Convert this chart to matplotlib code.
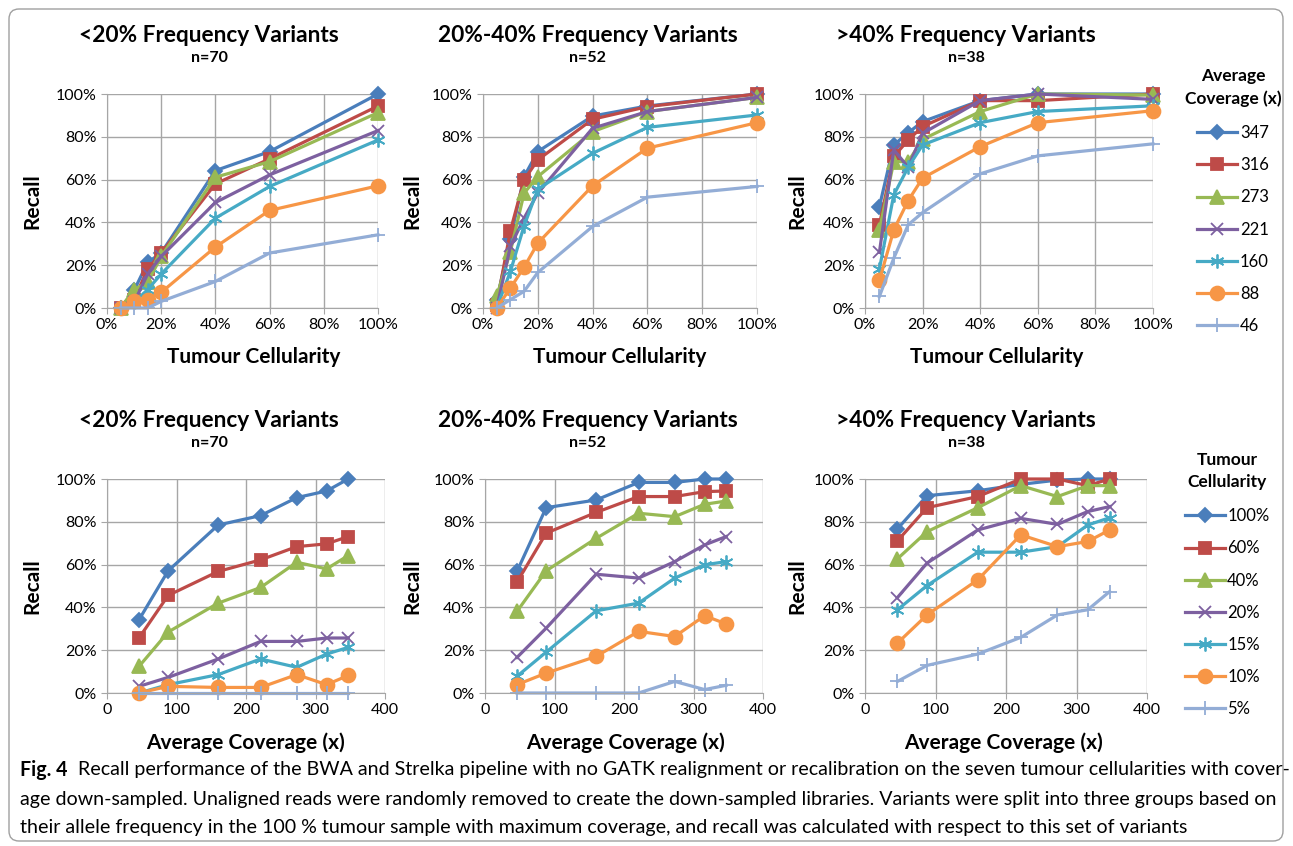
import matplotlib
matplotlib.use("Agg")
import matplotlib.pyplot as plt
from matplotlib.patches import FancyBboxPatch
from matplotlib.ticker import PercentFormatter

plt.rcParams['font.family'] = ['Lato', 'DejaVu Sans']

# =========================
# DATA
# =========================
cellularity = [100, 60, 40, 20, 15, 10, 5]      # tumour cellularity (%)
coverage = [46, 88, 160, 221, 273, 316, 347]    # average coverage (x)

# recall (%) - one row per cellularity, one column per coverage
recall_low = [
    [34.2, 57.1, 78.5, 82.9, 91.3, 94.4, 100.0],
    [25.7, 45.6, 56.8, 62.2, 68.4, 69.7, 73.1],
    [12.4, 28.5, 42.0, 49.3, 61.1, 58.0, 64.2],
    [3.1, 7.3, 15.9, 24.1, 24.1, 25.7, 25.7],
    [0.0, 3.9, 8.6, 15.9, 12.0, 18.2, 21.3],
    [0.0, 3.1, 2.6, 2.6, 8.6, 3.9, 8.2],
    [0.0, 0.0, 0.0, 0.0, 0.0, 0.0, 0.0],
]
recall_mid = [
    [56.8, 86.6, 90.2, 98.4, 98.4, 100.0, 100.0],
    [51.8, 74.7, 84.4, 91.8, 91.8, 94.1, 94.4],
    [38.1, 57.1, 72.3, 84.0, 82.4, 88.2, 89.7],
    [16.6, 30.3, 55.5, 53.7, 61.4, 69.2, 73.1],
    [7.8, 19.1, 38.4, 42.0, 53.7, 59.9, 61.4],
    [3.9, 9.3, 17.1, 28.8, 26.4, 36.1, 32.3],
    [0.0, 0.0, 0.0, 0.0, 5.4, 1.6, 3.6],
]
recall_high = [
    [76.7, 92.2, 94.5, 97.5, 99.5, 100.0, 100.0],
    [71.1, 86.6, 91.8, 100.0, 100.0, 96.9, 100.0],
    [62.7, 75.4, 86.6, 96.9, 91.8, 96.9, 96.9],
    [44.6, 60.7, 76.2, 81.6, 78.8, 84.8, 87.1],
    [38.9, 50.2, 65.8, 65.8, 68.4, 78.5, 81.9],
    [23.3, 36.5, 52.9, 73.9, 68.4, 70.8, 76.2],
    [5.4, 12.9, 18.2, 26.0, 36.5, 38.9, 47.4],
]

group_titles = ['<20% Frequency Variants', '20%-40% Frequency Variants', '>40% Frequency Variants']
group_n = ['n=70', 'n=52', 'n=38']
groups = [recall_low, recall_mid, recall_high]

caption = [
    'Recall performance of the BWA and Strelka pipeline with no GATK realignment or '
    'recalibration on the seven tumour cellularities with cover-',
    'age down-sampled. Unaligned reads were randomly removed to create the down-sampled '
    'libraries. Variants were split into three groups based on',
    'their allele frequency in the 100 % tumour sample with maximum coverage, and recall '
    'was calculated with respect to this set of variants',
]

# =========================
# STYLE
# =========================
colors = ['#4A7EBB', '#BE4B48', '#98B954', '#7D60A0', '#46AAC5', '#F79646', '#93ADD6']
markers = ['D', 's', '^', 'x', (6, 2, 0), 'o', '+']
msizes = [7.5, 9, 9.5, 9, 10, 10, 10]
grid_col = '#A6A6A6'

W, H = 1293, 846
fig = plt.figure(figsize=(W / 100, H / 100), dpi=100)

bg = fig.add_axes([0, 0, 1, 1])
bg.axis('off')
bg.set_xlim(0, W)
bg.set_ylim(H, 0)
bg.add_patch(FancyBboxPatch((9, 9), W - 19, H - 14, boxstyle='round,pad=0,rounding_size=10',
                            fc='none', ec='#A0A0A0', lw=1))


def px_axes(x0, x1, y0, y1):
    return fig.add_axes([x0 / W, 1 - y1 / H, (x1 - x0) / W, (y1 - y0) / H])


def ftext(x, y, s, **kw):
    return fig.text(x / W, 1 - y / H, s, ha='center', va='center', **kw)


def style_axes(ax):
    ax.set_ylim(0, 100)
    ax.set_yticks(range(0, 101, 20))
    ax.yaxis.set_major_formatter(PercentFormatter(decimals=0))
    ax.grid(True, color=grid_col, lw=1)
    ax.set_axisbelow(True)
    for s in ['top', 'right']:
        ax.spines[s].set_visible(False)
    for s in ['left', 'bottom']:
        ax.spines[s].set_color(grid_col)
    ax.tick_params(colors=grid_col, labelcolor='black', length=4, labelsize=11.5)


def draw_series(ax, x, y, i, label):
    ax.plot(x, y, color=colors[i], lw=2.3, marker=markers[i], ms=msizes[i],
            mfc=colors[i], mec=colors[i], mew=1.3, clip_on=False, label=label)


# =========================
# TOP ROW: recall vs cellularity
# =========================
top_x = [(107, 378), (483, 757), (865, 1153)]
bot_x = [(107, 385), (485, 763), (865, 1147)]
title_cx = [209, 588, 966]
ylabel_x = [32, 412, 797]
top_xlabel_cx = [254, 620, 997]
bot_xlabel_cx = [245, 625, 1003]

top_axes = []
for g, data in enumerate(groups):
    ax = px_axes(top_x[g][0], top_x[g][1], 94, 308)
    style_axes(ax)
    # one series per coverage, highest coverage first
    for i in range(len(coverage)):
        j = len(coverage) - 1 - i
        col = [row[j] for row in data]
        draw_series(ax, cellularity, col, i, str(coverage[j]))
    ax.set_xlim(0, 100)
    ax.set_xticks(range(0, 101, 20))
    ax.xaxis.set_major_formatter(PercentFormatter(decimals=0))
    top_axes.append(ax)

    ftext(title_cx[g], 36, group_titles[g], fontsize=16.3, fontweight='bold')
    ftext(title_cx[g], 58, group_n[g], fontsize=11.5, fontweight='bold')
    ftext(ylabel_x[g], 201, 'Recall', fontsize=15, fontweight='bold', rotation=90)
    ftext(top_xlabel_cx[g], 357, 'Tumour Cellularity', fontsize=15, fontweight='bold')

# =========================
# BOTTOM ROW: recall vs coverage
# =========================
bot_axes = []
for g, data in enumerate(groups):
    ax = px_axes(bot_x[g][0], bot_x[g][1], 479, 693)
    style_axes(ax)
    for i, row in enumerate(data):
        draw_series(ax, coverage, row, i, f'{cellularity[i]}%')
    ax.set_xlim(0, 400)
    ax.set_xticks(range(0, 401, 100))
    bot_axes.append(ax)

    ftext(title_cx[g], 420, group_titles[g], fontsize=16.3, fontweight='bold')
    ftext(title_cx[g], 443, group_n[g], fontsize=11.5, fontweight='bold')
    ftext(ylabel_x[g], 586, 'Recall', fontsize=15, fontweight='bold', rotation=90)
    ftext(bot_xlabel_cx[g], 743, 'Average Coverage (x)', fontsize=15, fontweight='bold')

# =========================
# LEGENDS
# =========================
def side_legend(ax, title, cx, top):
    h, l = ax.get_legend_handles_labels()
    leg = fig.legend(h, l, loc='upper center', bbox_to_anchor=(cx / W, 1 - top / H),
                     frameon=False, title=title, fontsize=12, numpoints=1,
                     title_fontproperties={'weight': 'bold', 'size': 12.5},
                     handlelength=2.4, handletextpad=0.15, labelspacing=0.97,
                     borderpad=0)
    leg.get_title().set_multialignment('center')
    leg.get_title().set_linespacing(1.45)
    leg._legend_box.sep = 13
    return leg


side_legend(top_axes[0], 'Average\nCoverage (x)', 1233, 60)
side_legend(bot_axes[0], 'Tumour\nCellularity', 1227, 444)

# =========================
# CAPTION
# =========================
cap_size = 13
t0 = bg.text(20, 770, 'Fig. 4', fontsize=cap_size, fontweight='bold', va='center')
t1 = bg.annotate('  ' + caption[0], xy=(1, 0.5), xycoords=t0, va='center', fontsize=cap_size)
t2 = bg.text(20, 799, caption[1], fontsize=cap_size, va='center')
t3 = bg.text(20, 828, caption[2], fontsize=cap_size, va='center')

# shrink the caption so the first two lines fit inside the frame
fig.canvas.draw()
r = fig.canvas.get_renderer()
w1 = t0.get_window_extent(r).width + t1.get_window_extent(r).width
w2 = t2.get_window_extent(r).width
scale = min(1263 / w1, 1263 / w2)
for t in (t0, t1, t2, t3):
    t.set_fontsize(cap_size * scale)

fig.savefig('out.png', dpi=100)
